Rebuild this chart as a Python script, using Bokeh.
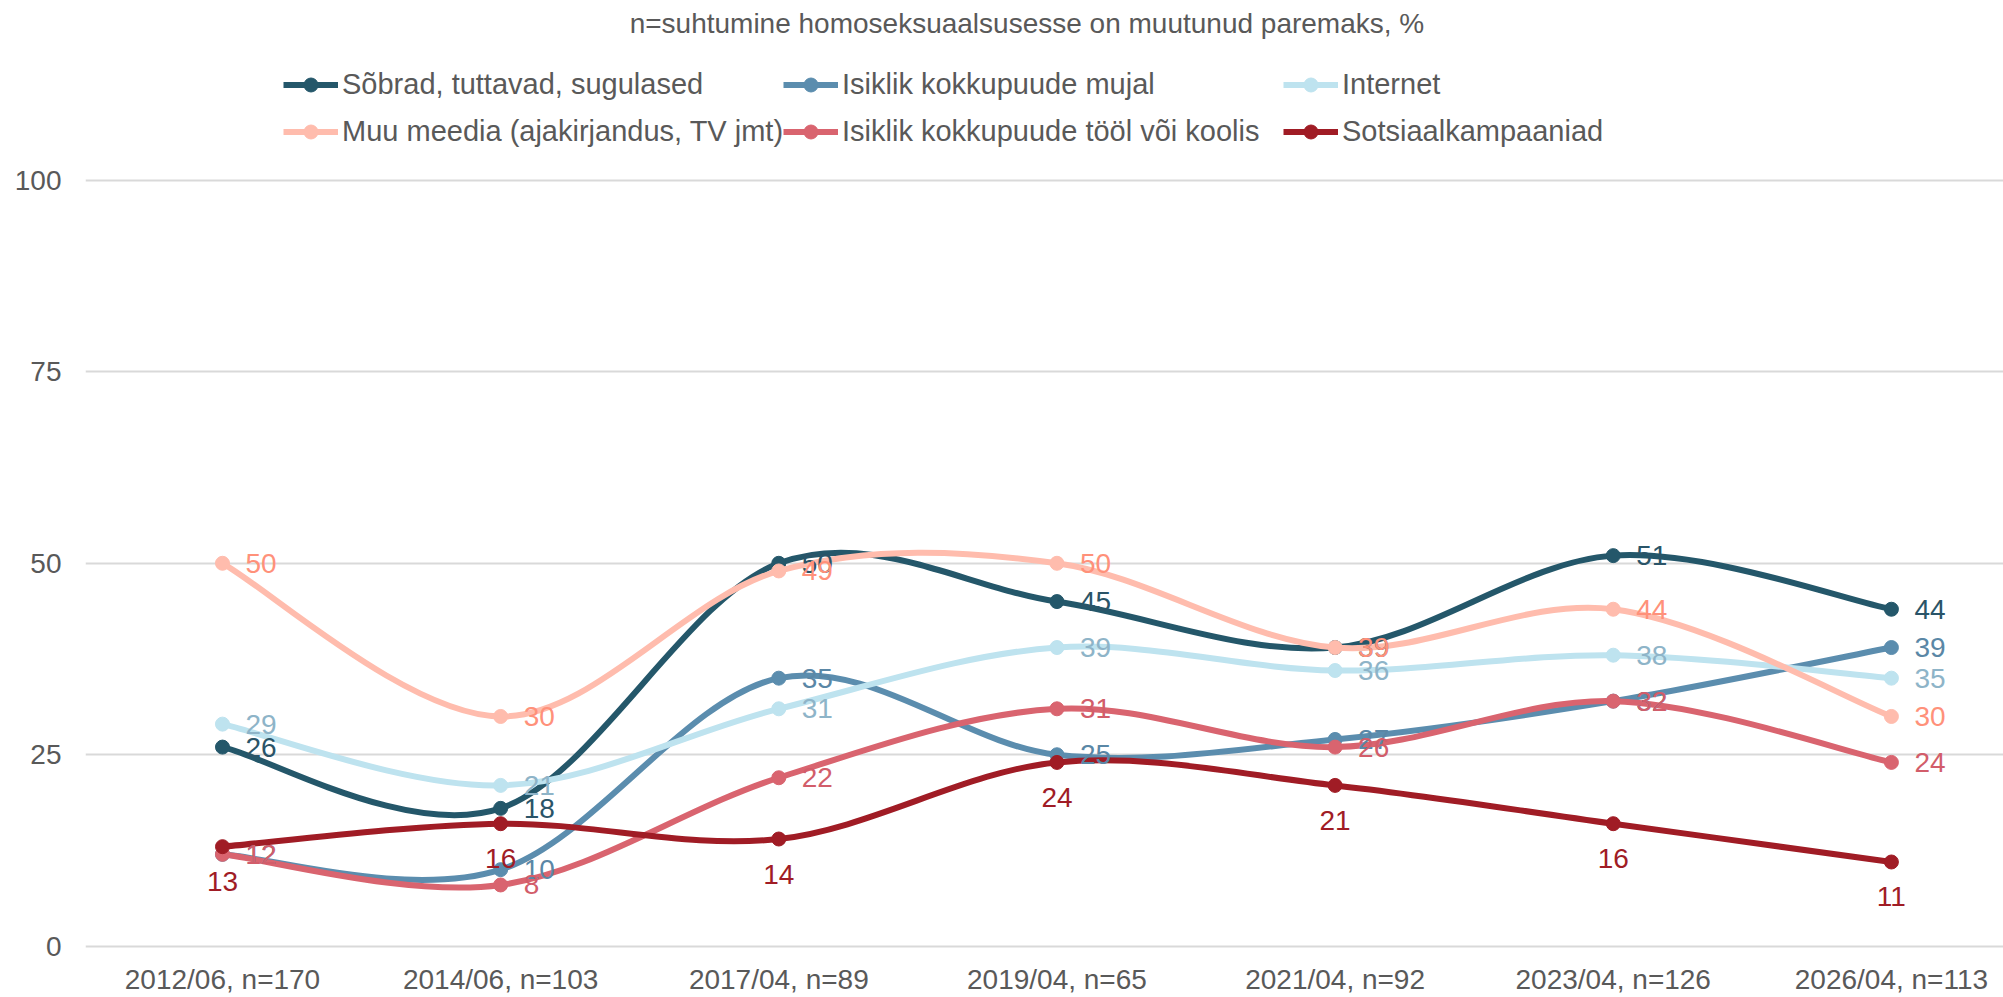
from bokeh.plotting import figure
from bokeh.models import Legend, LegendItem, FixedTicker, Label, ColumnDataSource, Range1d
from bokeh.core.properties import value
from bokeh.embed import file_html
from bokeh.resources import INLINE

# ---------------- data ----------------
categories = ["2012/06, n=170", "2014/06, n=103", "2017/04, n=89", "2019/04, n=65",
              "2021/04, n=92", "2023/04, n=126", "2026/04, n=113"]
series_names = ["Sõbrad, tuttavad, sugulased", "Isiklik kokkupuude mujal", "Internet",
                "Muu meedia (ajakirjandus, TV jmt)", "Isiklik kokkupuude tööl või koolis",
                "Sotsiaalkampaaniad"]
sobrad = [26, 18, 50, 45, 39, 51, 44]
mujal = [12, 10, 35, 25, 27, 32, 39]
internet = [29, 21, 31, 39, 36, 38, 35]
muu_meedia = [50, 30, 49, 50, 39, 44, 30]
tool_koolis = [12, 8, 22, 31, 26, 32, 24]
sotsiaal = [13, 16, 14, 24, 21, 16, 11]
y_ticks = [0, 25, 50, 75, 100]
title_text = "n=suhtumine  homoseksuaalsusesse on muutunud  paremaks, %"

series_values = [sobrad, mujal, internet, muu_meedia, tool_koolis, sotsiaal]
line_colors = ["#24576A", "#5B8DAE", "#BEE3EF", "#FFBCAD", "#D9646F", "#A01C25"]
label_colors = ["#2A5468", "#5A87A6", "#8EB4C8", "#FF917A", "#D25D6A", "#A01C25"]
label_below = [False, False, False, False, False, True]
# legend columns: pairs of series indices (row 1, row 2)
legend_columns = [[0, 3], [1, 4], [2, 5]]

FONT = "Liberation Sans"
FS = "28px"
LFS = "29px"
GREY = "#595959"

# ---------------- figure ----------------
W, H = 2003, 997
p = figure(width=W, height=H, output_backend="svg", toolbar_location=None,
           x_range=Range1d(-0.4925, 6.403), y_range=Range1d(-1.34, 123.48),
           min_border_left=85, min_border_right=0, min_border_top=0, min_border_bottom=40)
p.outline_line_color = None
p.background_fill_color = "white"
p.border_fill_color = "white"

p.xgrid.grid_line_color = None
p.ygrid.grid_line_color = "#D9D9D9"
p.ygrid.grid_line_width = 2
p.yaxis.ticker = FixedTicker(ticks=y_ticks)
p.xaxis.ticker = FixedTicker(ticks=list(range(len(categories))))
p.xaxis.major_label_overrides = {i: c for i, c in enumerate(categories)}
for ax in (p.xaxis[0], p.yaxis[0]):
    ax.axis_line_color = None
    ax.major_tick_line_color = None
    ax.minor_tick_line_color = None
    ax.major_tick_in = 0
    ax.major_tick_out = 0
    ax.minor_tick_in = 0
    ax.minor_tick_out = 0
    ax.major_label_text_font = FONT
    ax.major_label_text_font_size = FS
    ax.major_label_text_color = GREY
p.yaxis.major_label_standoff = 24
p.xaxis.major_label_standoff = 7


def smooth_segments(ys):
    n = len(ys)
    xs = list(range(n))
    seg = dict(x0=[], y0=[], x1=[], y1=[], cx0=[], cy0=[], cx1=[], cy1=[])
    for i in range(n - 1):
        a = max(i - 1, 0)
        d = min(i + 2, n - 1)
        seg["x0"].append(xs[i]); seg["y0"].append(ys[i])
        seg["x1"].append(xs[i + 1]); seg["y1"].append(ys[i + 1])
        seg["cx0"].append(xs[i] + (xs[i + 1] - xs[a]) / 6.0)
        seg["cy0"].append(ys[i] + (ys[i + 1] - ys[a]) / 6.0)
        seg["cx1"].append(xs[i + 1] - (xs[d] - xs[i]) / 6.0)
        seg["cy1"].append(ys[i + 1] - (ys[d] - ys[i]) / 6.0)
    return seg


renderers = []
for name, ys, lc in zip(series_names, series_values, line_colors):
    src = ColumnDataSource(smooth_segments(ys))
    bz = p.bezier(x0="x0", y0="y0", x1="x1", y1="y1", cx0="cx0", cy0="cy0",
                  cx1="cx1", cy1="cy1", source=src, line_color=lc, line_width=6)
    pts = ColumnDataSource(dict(x=list(range(len(ys))), y=ys))
    sc = p.scatter("x", "y", source=pts, size=14, fill_color=lc, line_color=lc)
    renderers.append([bz, sc])

# data labels
for ys, tc, below in zip(series_values, label_colors, label_below):
    src = ColumnDataSource(dict(x=list(range(len(ys))), y=ys, t=[str(v) for v in ys]))
    if below:
        p.text("x", "y", text="t", source=src, text_color=tc, text_font=value(FONT),
               text_font_size=value(FS), text_align="center", text_baseline="middle",
               y_offset=35)
    else:
        p.text("x", "y", text="t", source=src, text_color=tc, text_font=value(FONT),
               text_font_size=value(FS), text_align="left", text_baseline="middle",
               x_offset=23)

# legend: three columns, 500 px apart
for ci, col in enumerate(legend_columns):
    items = [LegendItem(label=series_names[k], renderers=renderers[k]) for k in col]
    lg = Legend(items=items, location=(198 + 500 * ci, 805), orientation="vertical",
                padding=0, margin=0, spacing=7, glyph_width=55, glyph_height=35,
                label_height=40, label_standoff=4,
                label_text_font=FONT, label_text_font_size=LFS, label_text_color=GREY,
                background_fill_alpha=0, border_line_color=None)
    p.add_layout(lg, "center")

p.add_layout(Label(x=2.92, y=120.48, text=title_text, text_font=FONT, text_font_size=FS,
                   text_color=GREY, text_align="center", text_baseline="middle"))

open("out.html", "w").write(file_html(p, INLINE))
